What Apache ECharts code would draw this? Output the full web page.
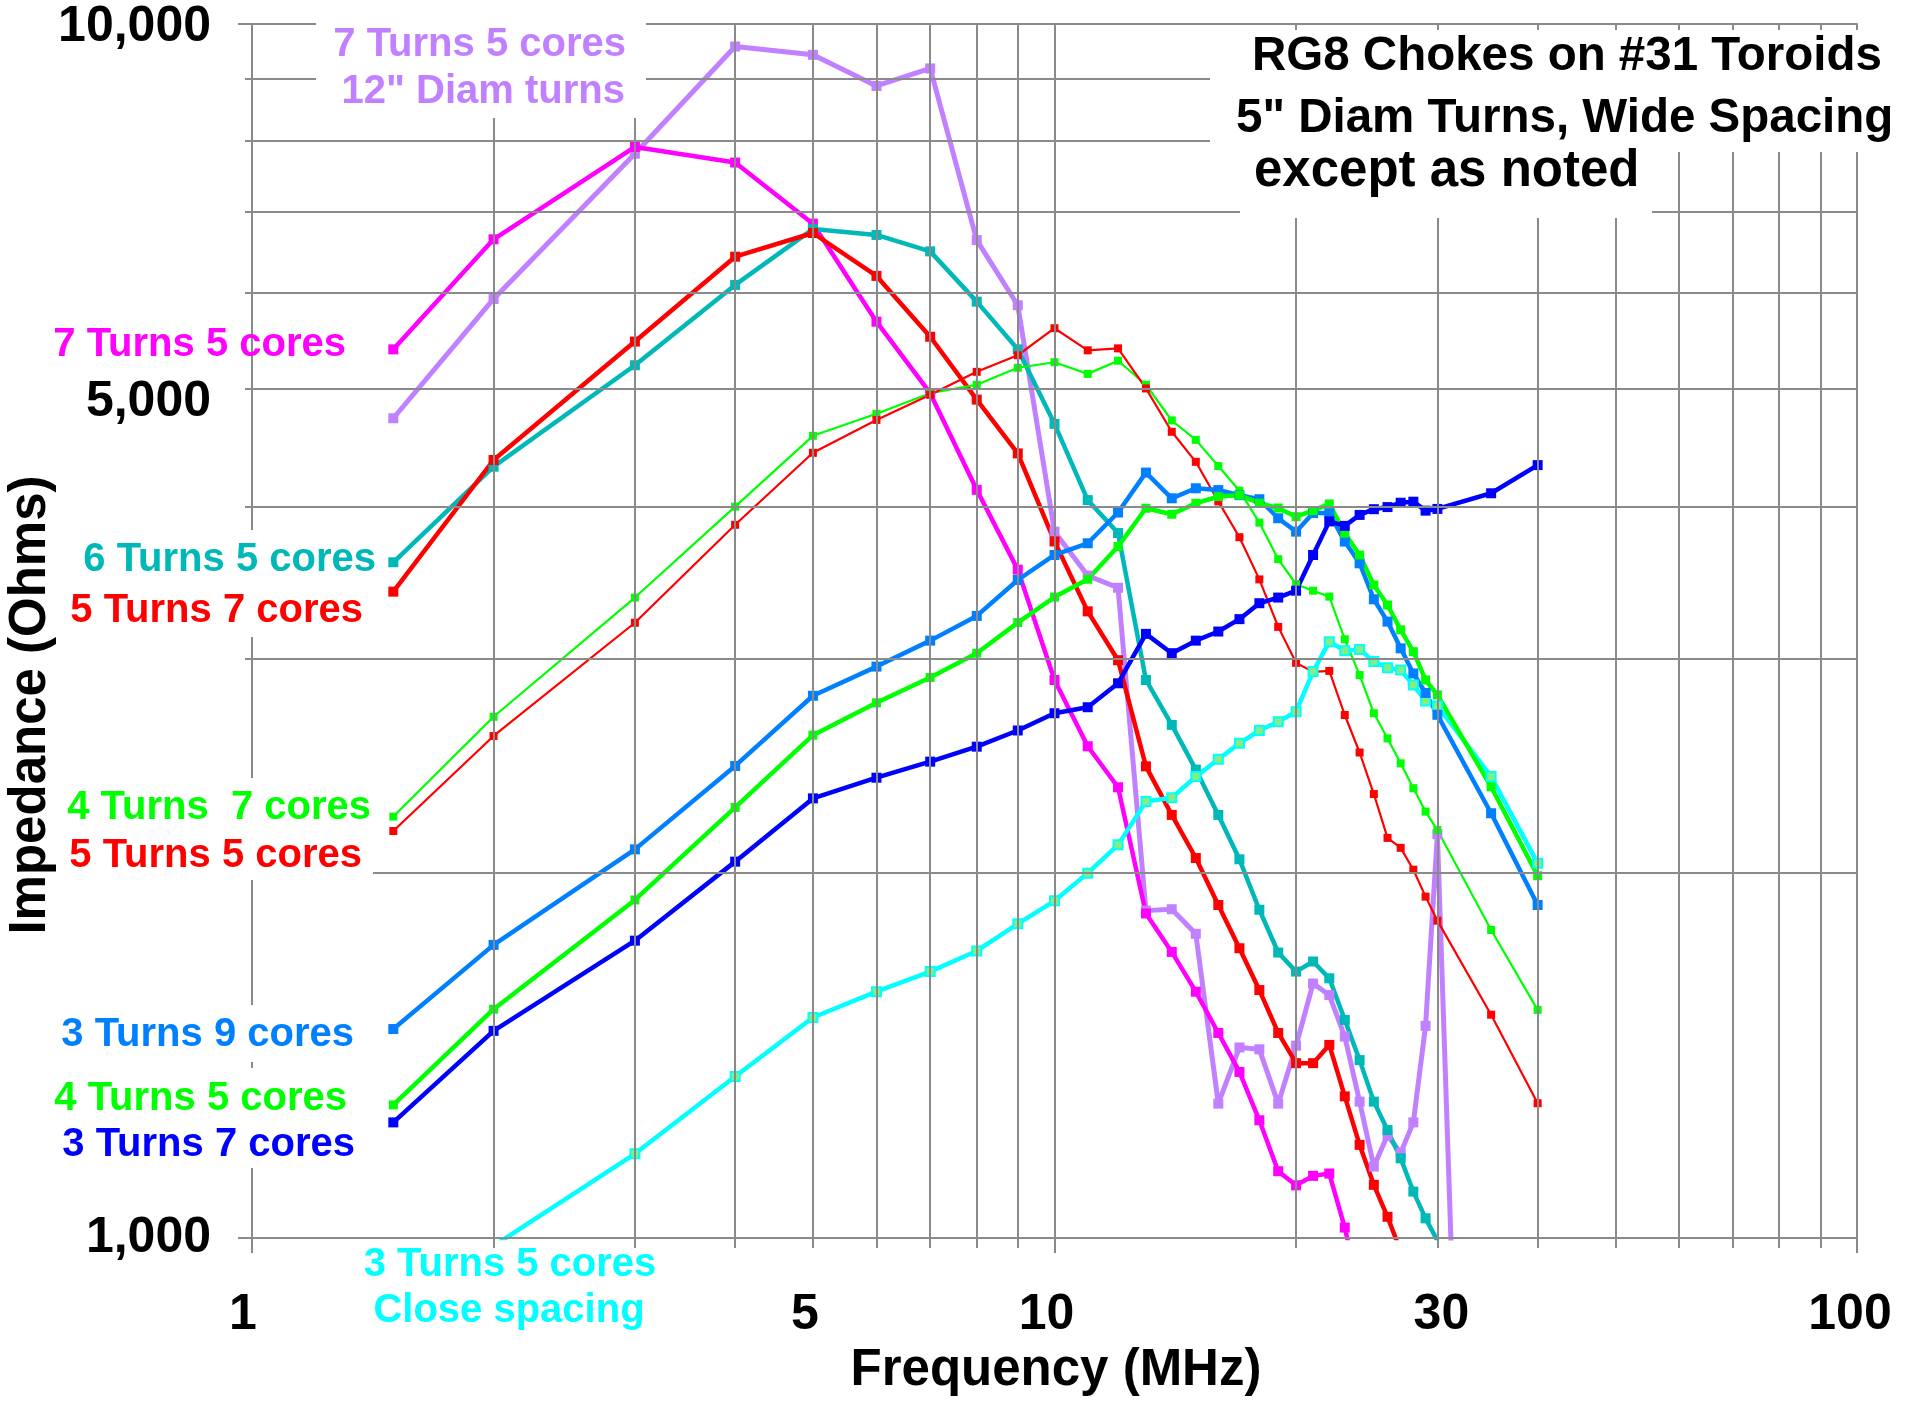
<!DOCTYPE html>
<html>
<head>
<meta charset="utf-8">
<script src="https://cdn.jsdelivr.net/npm/echarts@6/dist/echarts.min.js"></script>
<style>
html,body{margin:0;padding:0;background:#ffffff;}
#chart{width:1905px;height:1401px;}
</style>
</head>
<body>
<div id="chart"></div>
<script>
// ---------------- DATA ----------------
const freqMHz = [1.5,2,3,4,5,6,7,8,9,10,11,12,13,14,15,16,17,18,19,20,21,22,23,24,25,26,27,28,29,30,32,35,40];

const t7c5_12in = [4730,5930,7810,9570,9420,8880,9180,6630,5860,3815,3510,3430,1860,1865,1780,1290,1435,1430,1290,1440,1620,1585,1465,1295,1145,1215,1175,1245,1495,2150,600,null,null];
const t7c5      = [5390,6640,7910,7680,6840,5680,4960,4130,3550,2880,2540,2350,1850,1720,1595,1475,1370,1250,1135,1105,1125,1130,1020,900,null,null,null,null,null,null,null,null,null];
const t6c5      = [3600,4315,5230,6090,6770,6695,6490,5900,5390,4680,4050,3805,2880,2645,2430,2230,2050,1863,1718,1657,1689,1636,1512,1401,1295,1227,1163,1092,1038,995,null,null,null];
const t5c7      = [3405,4370,5470,6425,6720,6195,5520,4900,4425,3745,3280,2990,2445,2230,2055,1880,1732,1600,1475,1393,1393,1442,1308,1193,1106,1041,975,null,null,null,null,null,null];
const t4c7      = [2223,2686,3367,4000,4575,4770,4960,5040,5205,5260,5145,5275,5040,4710,4540,4320,4123,3881,3621,3453,3411,3373,3111,2907,2704,2578,2459,2346,2244,2167,null,1793,1541];
const t5c5      = [2163,2590,3210,3865,4430,4715,4945,5165,5330,5610,5380,5400,5005,4610,4355,4040,3775,3485,3185,2975,2925,2930,2695,2510,2320,2135,2095,2010,1910,1825,null,1527,1291];
const t3c9      = [1486,1743,2089,2447,2795,2954,3103,3252,3481,3650,3732,3956,4267,4064,4142,4128,4088,4057,3913,3815,3952,3952,3744,3593,3356,3217,3058,2916,2810,2696,null,2237,1880];
const t4c5      = [1287,1543,1898,2262,2594,2758,2894,3030,3211,3370,3486,3709,3988,3943,4026,4077,4088,4026,3990,3925,3970,4021,3804,3650,3448,3320,3167,3039,2880,2800,null,2352,1987];
const t3c7      = [1245,1481,1757,2041,2301,2393,2467,2538,2617,2704,2735,2862,3143,3030,3103,3157,3232,3331,3367,3411,3650,3890,3857,3938,3981,3997,4030,4038,3970,3983,null,4103,4328];
const t3c5close = [null,985,1173,1358,1519,1595,1657,1723,1814,1895,1997,2107,2287,2304,2398,2478,2554,2617,2661,2712,2926,3097,3044,3052,2982,2948,2935,2853,2767,2742,null,2398,2035];

const xGridValues = [1,2,3,4,5,6,7,8,9,10,20,30,40,50,60,70,80,90,100];
const yGridValues = [1000,2000,3000,4000,5000,6000,7000,8000,9000,10000];
const xTickLabels = {1:'1', 5:'5', 10:'10', 30:'30', 100:'100'};
const yTickLabels = {1000:'1,000', 5000:'5,000', 10000:'10,000'};

// ---------------- STYLE ----------------
const FONT = '"Liberation Sans", Arial, Helvetica, sans-serif';
const GRID_COLOR = '#8a8a8a';
const xLabelShift = {1:-9, 5:-8, 10:-8, 30:4, 100:-7};
// vertical nudge of y tick labels (px, downwards), done with an empty first line
const yLabelNudge = {1000:0, 5000:13, 10000:4};

const seriesStyles = [
  {name:'7 Turns 5 cores 12" Diam turns', values:t7c5_12in, color:'#C080FF', width:5,   size:10},
  {name:'7 Turns 5 cores',               values:t7c5,      color:'#FF00FF', width:4.5, size:10},
  {name:'6 Turns 5 cores',               values:t6c5,      color:'#00B8B8', width:4.5, size:10},
  {name:'5 Turns 7 cores',               values:t5c7,      color:'#FF0000', width:4.5, size:10},
  {name:'4 Turns 7 cores',               values:t4c7,      color:'#00FF00', width:2.2, size:8},
  {name:'5 Turns 5 cores',               values:t5c5,      color:'#FF0000', width:2.2, size:8},
  {name:'3 Turns 5 cores Close spacing', values:t3c5close, color:'#00FFFF', width:4.5, size:9, fill:'#80F080'},
  {name:'3 Turns 9 cores',               values:t3c9,      color:'#0080FF', width:4.5, size:10},
  {name:'4 Turns 5 cores',               values:t4c5,      color:'#00FF00', width:4.5, size:9},
  {name:'3 Turns 7 cores',               values:t3c7,      color:'#0000FF', width:4.5, size:10}
];

const dataSeries = seriesStyles.map(s => ({
  type:'line',
  name:s.name,
  data:freqMHz.map((f,i)=>[f, s.values[i]]).filter(d => d[1] !== null),
  symbol:'rect',
  symbolSize:s.size,
  showAllSymbol:true,
  clip:true,
  z:3,
  lineStyle:{color:s.color, width:s.width},
  itemStyle:s.fill ? {color:s.fill, borderColor:s.color, borderWidth:2} : {color:s.color},
  emphasis:{disabled:true},
  animation:false
}));

const markData = [];
xGridValues.forEach(v => {
  const item = {xAxis:v};
  if (xTickLabels[v]) {
    const s = xLabelShift[v];
    item.label = {show:true, formatter:xTickLabels[v], distance:52,
      padding: s < 0 ? [0, -2*s, 0, 0] : [0, 0, 0, 2*s]};
  }
  markData.push(item);
});
yGridValues.forEach(v => {
  const item = {yAxis:v};
  if (yTickLabels[v]) {
    const n = yLabelNudge[v];
    item.label = n > 0
      ? {show:true, formatter:'\n' + yTickLabels[v], distance:41, lineHeight:2*n}
      : {show:true, formatter:yTickLabels[v], distance:41};
  }
  markData.push(item);
});

const gridSeries = {
  type:'line', name:'grid', data:[], z:1, silent:true, animation:false,
  markLine:{
    silent:true, animation:false, symbol:['none','none'],
    lineStyle:{color:GRID_COLOR, width:2, type:'solid'},
    label:{show:false, position:'start', color:'#000', fontFamily:FONT, fontWeight:'bold', fontSize:50},
    emphasis:{disabled:true},
    data:markData
  }
};

function txt(text, x, y, color, size, align, extra) {
  return Object.assign({
    type:'text', x:x, y:y, z:101, silent:true,
    style:{text:text, fill:color, font:'bold ' + size + 'px ' + FONT, align:align, verticalAlign:'middle'}
  }, extra || {});
}
function box(x, y, w, h) {
  return {type:'rect', z:100, silent:true, shape:{x:x, y:y, width:w, height:h}, style:{fill:'#ffffff'}};
}

const graphics = [
  box(1210, 30, 700, 122),
  box(1240, 152, 412, 66),
  box(316, 8, 330, 110),
  box(60, 530, 325, 107),
  box(55, 778, 318, 102),
  box(50, 1005, 315, 57),
  box(45, 1068, 320, 100),
  txt('RG8 Chokes on #31 Toroids', 1252, 57, '#000', 47.5, 'left'),
  txt('5" Diam Turns, Wide Spacing', 1236, 118.5, '#000', 47.5, 'left'),
  txt('except as noted', 1254, 172, '#000', 51, 'left'),
  txt('7 Turns 5 cores', 626, 44.5, '#C080FF', 40, 'right'),
  txt('12" Diam turns', 625, 91.5, '#C080FF', 40, 'right'),
  txt('7 Turns 5 cores', 346, 345, '#FF00FF', 40, 'right'),
  txt('6 Turns 5 cores', 376, 560, '#00B8B8', 40, 'right'),
  txt('5 Turns 7 cores', 363, 611, '#FF0000', 40, 'right'),
  txt('4 Turns  7 cores', 371, 808, '#00FF00', 40, 'right'),
  txt('5 Turns 5 cores', 362, 856, '#FF0000', 40, 'right'),
  txt('3 Turns 9 cores', 354, 1035, '#0080FF', 40, 'right'),
  txt('4 Turns 5 cores', 347, 1099, '#00FF00', 40, 'right'),
  txt('3 Turns 7 cores', 355, 1145, '#0000FF', 40, 'right'),
  txt('3 Turns 5 cores', 510, 1265, '#00FFFF', 40, 'center'),
  txt('Close spacing', 509, 1311, '#00FFFF', 40, 'center'),
  txt('Frequency (MHz)', 1056, 1371, '#000', 51, 'center'),
  txt('Impedance (Ohms)', 31, 705, '#000', 51, 'center', {rotation:Math.PI/2})
];

const chart = echarts.init(document.getElementById('chart'), null, {renderer:'canvas', width:1905, height:1401});
chart.setOption({
  animation:false,
  backgroundColor:'#ffffff',
  grid:{left:252, right:48, top:23.3, bottom:163, containLabel:false, outerBoundsMode:'none'},
  xAxis:{
    type:'log', logBase:10, min:1, max:100,
    axisLine:{show:false},
    axisLabel:{show:false},
    splitLine:{show:false},
    axisTick:{show:true, length:15, lineStyle:{color:GRID_COLOR, width:2}},
    minorTick:{show:true, splitNumber:9, length:10, lineStyle:{color:GRID_COLOR, width:2}}
  },
  yAxis:{
    type:'log', logBase:10, min:1000, max:10000,
    axisLine:{show:false},
    axisLabel:{show:false},
    splitLine:{show:false},
    axisTick:{show:true, length:14, lineStyle:{color:GRID_COLOR, width:2}},
    minorTick:{show:true, splitNumber:9, length:7, lineStyle:{color:GRID_COLOR, width:2}}
  },
  tooltip:{show:false},
  series:[gridSeries].concat(dataSeries),
  graphic:graphics
});
</script>
</body>
</html>
